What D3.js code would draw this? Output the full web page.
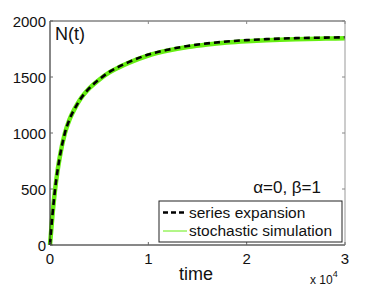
<!DOCTYPE html>
<html>
<head>
<meta charset="utf-8">
<script src="https://cdn.jsdelivr.net/npm/d3@7"></script>
<style>
  body { margin: 0; background: #fff; }
  svg { display: block; font-family: "Liberation Sans", Arial, sans-serif; }
</style>
</head>
<body>
<script>
// time values
const times = [0, 250, 500, 750, 1000, 1500, 2000, 2500, 3000, 4000, 5000, 6000, 7000, 8000,
  10000, 12000, 14000, 16000, 18000, 20000, 22000, 25000, 28000, 30000];
// series expansion N(t)
const seriesN = [0, 270, 485, 655, 790, 995, 1125, 1215, 1290, 1400, 1478, 1543, 1592, 1633,
  1700, 1744, 1777, 1800, 1817, 1829, 1838, 1847, 1852, 1855];
// stochastic simulation N(t)
const stochN = [0, 266, 482, 652, 788, 993, 1124, 1215, 1291, 1399, 1476, 1539, 1586, 1626,
  1692, 1736, 1768, 1791, 1808, 1820, 1829, 1838, 1843, 1846];

const xTicks = [0, 10000, 20000, 30000];
const xTickLabels = ["0", "1", "2", "3"];
const yTicks = [0, 500, 1000, 1500, 2000];

const W = 381, H = 287;
const margin = {top: 21, right: 36, bottom: 42, left: 50};
const width = W - margin.left - margin.right;
const height = H - margin.top - margin.bottom;

const svg = d3.select("body").append("svg")
    .attr("width", W).attr("height", H);
const g = svg.append("g")
    .attr("transform", `translate(${margin.left},${margin.top})`);

const x = d3.scaleLinear().domain([0, 30000]).range([0, width]);
const y = d3.scaleLinear().domain([0, 2000]).range([height, 0]);

// curves
const line = d3.line().x((d, i) => x(times[i])).y(d => y(d)).curve(d3.curveMonotoneX);

g.append("path").datum(stochN)
    .attr("d", line)
    .attr("fill", "none")
    .attr("stroke", "#66ee11")
    .attr("stroke-width", 4.5);

g.append("path").datum(seriesN)
    .attr("d", line)
    .attr("fill", "none")
    .attr("stroke", "#000")
    .attr("stroke-width", 2.6)
    .attr("stroke-dasharray", "6,4");

// box and inward ticks
const ax = g.append("g").attr("stroke-width", 1).attr("fill", "none");
ax.append("line").attr("x1", 0).attr("x2", width).attr("y1", 0).attr("y2", 0).attr("stroke", "#444");
ax.append("line").attr("x1", width).attr("x2", width).attr("y1", 0).attr("y2", height).attr("stroke", "#999");
ax.append("line").attr("x1", 0).attr("x2", 0).attr("y1", 0).attr("y2", height).attr("stroke", "#111");
ax.append("line").attr("x1", 0).attr("x2", width).attr("y1", height).attr("y2", height).attr("stroke", "#111");

xTicks.forEach(t => {
  ax.append("line").attr("x1", x(t)).attr("x2", x(t)).attr("y1", height).attr("y2", height - 3).attr("stroke", "#666");
  ax.append("line").attr("x1", x(t)).attr("x2", x(t)).attr("y1", 0).attr("y2", 3).attr("stroke", "#888");
});
yTicks.forEach(t => {
  ax.append("line").attr("x1", 0).attr("x2", 3).attr("y1", y(t)).attr("y2", y(t)).attr("stroke", "#666");
  ax.append("line").attr("x1", width).attr("x2", width - 3).attr("y1", y(t)).attr("y2", y(t)).attr("stroke", "#888");
});

// tick labels
g.selectAll(".ylab").data(yTicks).join("text")
    .attr("x", -4).attr("y", d => y(d) + 5.5)
    .attr("text-anchor", "end").attr("font-size", 15).attr("fill", "#111")
    .text(d => d);
g.selectAll(".xlab").data(xTicks).join("text")
    .attr("x", (d, i) => x(d)).attr("y", height + 19)
    .attr("text-anchor", "middle").attr("font-size", 15).attr("fill", "#111")
    .text((d, i) => xTickLabels[i]);

// axis label and multiplier
svg.append("text").attr("x", 196).attr("y", 280)
    .attr("text-anchor", "middle").attr("font-size", 18).attr("fill", "#111")
    .text("time");
const mult = svg.append("text").attr("x", 310).attr("y", 284)
    .attr("font-size", 12).attr("fill", "#111");
mult.append("tspan").text("x 10");
mult.append("tspan").attr("font-size", 9).attr("dy", -7).text("4");

// annotations
g.append("text").attr("x", 5).attr("y", 19)
    .attr("font-size", 18).attr("fill", "#111").text("N(t)");
g.append("text").attr("x", 271).attr("y", 172)
    .attr("text-anchor", "end").attr("font-size", 17).attr("fill", "#111")
    .text("α=0, β=1");

// legend
const legend = g.append("g").attr("transform", "translate(109,180)");
legend.append("rect").attr("width", 183).attr("height", 41)
    .attr("fill", "#fff").attr("stroke", "#222").attr("stroke-width", 1);
const items = [
  {label: "series expansion", color: "#000", w: 2.6, dash: "5,3"},
  {label: "stochastic simulation", color: "#66ee11", w: 1, dash: null}
];
items.forEach((it, i) => {
  const yy = 11.5 + i * 18.5;
  legend.append("line").attr("x1", 4).attr("x2", 28).attr("y1", yy).attr("y2", yy)
      .attr("stroke", it.color).attr("stroke-width", it.w)
      .attr("stroke-dasharray", it.dash);
  legend.append("text").attr("x", 30).attr("y", yy + 5)
      .attr("font-size", 15.5).attr("fill", "#111").text(it.label);
});
</script>
</body>
</html>
